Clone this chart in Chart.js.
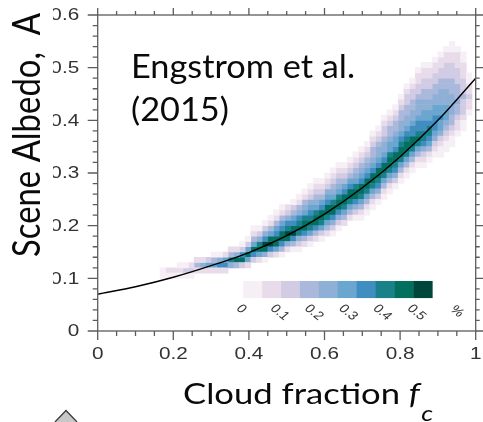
<!DOCTYPE html>
<html><head><meta charset="utf-8">
<script src="https://cdn.jsdelivr.net/npm/chart.js@4.4.0/dist/chart.umd.min.js"></script>
<style>html,body{margin:0;padding:0;background:#fff;}#wrap{width:483px;height:422px;}</style>
</head><body><div id="wrap"><canvas id="c" width="483" height="422"></canvas></div>
<script>
// ---- data ----
// left edges of the cloud-fraction bins of the 2D histogram
const fcBinLeft = [0.165,0.18,0.195,0.21,0.225,0.24,0.255,0.27,0.285,0.30,0.315,0.33,0.345,0.36,0.375,0.39,0.405,0.42,0.435,0.45,0.465,0.48,0.495,0.51,0.525,0.54,0.555,0.57,0.585,0.60,0.615,0.63,0.645,0.66,0.675,0.69,0.705,0.72,0.735,0.75,0.765,0.78,0.795,0.81,0.825,0.84,0.855,0.87,0.885,0.90,0.915,0.93,0.945,0.96,0.975];
const fcBinWidth = 0.015;
const albedoBinHeight = 0.01;
// albedo of the lowest filled cell in each column
const columnStart = [0.10,0.10,0.10,0.10,0.10,0.10,0.11,0.11,0.11,0.11,0.11,0.11,0.12,0.12,0.12,0.12,0.13,0.13,0.13,0.14,0.14,0.14,0.15,0.15,0.15,0.16,0.16,0.17,0.17,0.18,0.18,0.19,0.20,0.21,0.21,0.21,0.22,0.23,0.24,0.25,0.26,0.27,0.28,0.29,0.30,0.31,0.31,0.32,0.33,0.33,0.34,0.35,0.37,0.38,0.41];
// frequency class (colour-bar box 0..9, each 0.05 %) of each cell, bottom to top
const columnClasses = [
 [0,0],[0,1],[0,1],[0,1,0],[0,2,0],[0,2,1],[1,3,1],[1,4,1],[1,5,2],[1,5,3,0],
 [1,6,4,0],[1,6,5,1],[4,7,3,1],[3,8,4,1],[2,8,6,2,0],[1,5,8,5,2,0],[2,6,8,5,3,1,0],[1,5,8,7,4,2,0],[0,4,8,9,6,4,2,0],[2,6,9,8,5,3,1,0],
 [1,5,8,8,6,5,3,1,0],[0,3,6,8,8,6,5,3,1,0],[1,4,8,9,7,6,4,2,1],[0,3,6,9,8,6,5,3,2,0],[0,2,4,7,8,7,6,4,3,1,0],[1,3,6,8,8,7,5,4,3,1,0],[0,2,5,7,8,7,6,5,4,2,1,0],[1,3,6,8,8,7,5,4,3,2,1,0],[0,2,5,7,8,8,6,5,3,2,1,0],[1,3,5,7,8,8,6,5,4,2,1,0],
 [0,2,4,6,8,8,7,5,4,3,2,1,0],[0,2,4,6,8,8,7,5,4,3,2,1,0],[1,3,5,7,8,8,6,5,3,2,1,0],[1,3,5,7,8,8,6,5,3,2,1,0],[0,2,4,6,8,8,7,5,4,3,2,1,0],[0,1,3,5,7,8,8,6,5,4,3,2,1,0],[0,1,3,5,7,8,8,6,5,4,3,2,1,0],[0,1,3,5,7,8,8,6,5,4,3,3,2,1,0],[0,2,4,6,7,8,8,6,5,4,4,3,2,1,0],[0,1,3,5,7,8,8,6,5,4,4,3,2,2,1,0],
 [0,1,3,5,7,8,8,7,5,5,4,3,3,2,1,0],[0,2,4,6,7,8,8,6,5,5,4,3,3,2,1,0],[0,1,3,5,7,8,8,7,6,5,4,4,3,3,2,1,0],[0,1,3,5,7,8,8,7,6,5,4,4,3,3,2,2,1,0],[0,1,3,5,7,8,8,6,6,5,4,4,3,3,2,2,1,0],[0,1,3,5,7,8,7,6,6,5,4,4,4,3,2,2,1,1,0],[0,1,2,4,6,7,7,6,6,5,5,4,4,3,3,2,2,1,1,0],[0,1,3,5,6,7,7,6,5,5,4,4,3,3,2,2,1,1,0],[0,1,2,4,5,6,6,6,5,5,4,4,3,3,2,2,1,1,0],[0,0,1,2,4,5,5,6,5,5,4,4,4,3,3,2,2,1,1,0],
 [0,0,1,2,3,4,5,5,5,4,4,4,3,3,2,2,2,1,1,0],[0,0,1,2,3,3,4,4,4,4,3,3,3,2,2,2,1,1,0,0],[0,1,1,2,3,3,4,3,3,3,2,2,2,1,1,1,0],[0,0,1,2,2,2,3,2,2,2,1,1,1,0,0],[0,1,1,2,1,1,0,0]
];
const classColors = ['#f6eff5','#e8dcea','#d1cce4','#aab9db','#8fb0d6','#6aa6cf','#3f8dc1','#1a8089','#036f5e','#01463a'];
const colorbarLabels = ['0','0.1','0.2','0.3','0.4','0.5'];
const colorbarUnit = '%';
// Engstrom et al. (2015) fit curve
const curveFc = [0,0.1,0.2,0.3,0.4,0.5,0.6,0.7,0.8,0.9,1.0];
const curveA  = [0.070,0.084,0.102,0.124,0.149,0.181,0.222,0.272,0.331,0.400,0.480];
const xTicks = [0,0.2,0.4,0.6,0.8,1];
const xTickLabels = ['0','0.2','0.4','0.6','0.8','1'];
const yTicks = [0,0.1,0.2,0.3,0.4,0.5,0.6];
const yTickLabels = ['0','0.1','0.2','0.3','0.4','0.5','0.6'];
const annotationLines = ['Engstrom et al.','(2015)'];
const yTitle = 'Scene Albedo,  A';
const xTitleMain = 'Cloud fraction ';
const xTitleSym = 'f';
const xTitleSub = 'c';

// ---- build datasets ----
const datasets = [];
for (let lv = 0; lv < classColors.length; lv++) {
  datasets.push({type:'bar', data:[], backgroundColor: classColors[lv], borderWidth:0,
    grouped:false, barPercentage:1, categoryPercentage:1, order:2});
}
fcBinLeft.forEach((x0, k) => {
  const xc = x0 + fcBinWidth / 2;
  columnClasses[k].forEach((lv, j) => {
    const a0 = columnStart[k] + j * albedoBinHeight;
    datasets[lv].data.push({x: xc, y: [a0, a0 + albedoBinHeight]});
  });
});
datasets.push({type:'line', data: curveFc.map((x, i) => ({x, y: curveA[i]})),
  borderColor:'#000', borderWidth:1.4, pointRadius:0, cubicInterpolationMode:'monotone', order:0, fill:false});

function stretchText(c, txt, x, y, sx, sy, rot) {
  c.save(); c.translate(x, y); c.scale(sx, sy); if (rot) c.rotate(rot); c.fillText(txt, 0, 0); c.restore();
}

const decor = {
  id: 'decor',
  afterDraw(chart) {
    const c = chart.ctx, xs = chart.scales.x, ys = chart.scales.y, a = chart.chartArea;
    c.save();
    // frame
    c.strokeStyle = '#5c5c5c'; c.lineWidth = 1.3;
    c.strokeRect(a.left, a.top, a.right - a.left, a.bottom - a.top);
    // ticks (outward, mirrored)
    c.beginPath();
    for (let i = 0; i <= 20; i++) {
      const px = xs.getPixelForValue(i * 0.05); const major = i % 4 === 0;
      c.moveTo(px, a.bottom); c.lineTo(px, a.bottom + (major ? 9 : 5));
      c.moveTo(px, a.top); c.lineTo(px, a.top - (major ? 7 : 4));
    }
    for (let i = 0; i <= 30; i++) {
      const py = ys.getPixelForValue(i * 0.02); const major = i % 5 === 0;
      c.moveTo(a.left, py); c.lineTo(a.left - (major ? 10 : 5), py);
      c.moveTo(a.right, py); c.lineTo(a.right + (major ? 8 : 4), py);
    }
    c.stroke();
    // tick labels
    c.fillStyle = '#333';
    c.font = '17px "Liberation Sans", Arial, sans-serif';
    c.textBaseline = 'middle'; c.textAlign = 'center';
    xTicks.forEach((v, i) => stretchText(c, xTickLabels[i], xs.getPixelForValue(v), a.bottom + 23, 1.22, 1));
    c.textAlign = 'right';
    yTicks.forEach((v, i) => {
      c.save();
      c.beginPath(); c.rect(53, 0, 200, 422); c.clip();
      stretchText(c, yTickLabels[i], a.left - 18.5, ys.getPixelForValue(v) + 0.5, 1.22, 1);
      c.restore();
    });
    // annotation
    c.fillStyle = '#0a0a0a';
    c.font = '32px Lato, sans-serif'; c.textAlign = 'left'; c.textBaseline = 'alphabetic';
    const sxA = 224 / c.measureText(annotationLines[0]).width;
    stretchText(c, annotationLines[0], 131, 78, sxA, 1);
    stretchText(c, annotationLines[1], 131, 121, sxA, 1);
    // y title
    c.font = '33px Lato, sans-serif'; c.textAlign = 'center';
    const sl = 244 / c.measureText(yTitle).width;
    stretchText(c, yTitle, 40, 135, 1.18, sl, -Math.PI / 2);
    // x title with italic symbol and subscript
    c.textAlign = 'left';
    c.font = '28px Lato, sans-serif'; const w1 = c.measureText(xTitleMain).width;
    c.font = 'italic 28px Lato, sans-serif'; const w2 = c.measureText(xTitleSym).width + 1;
    c.font = 'italic 21px Lato, sans-serif'; const w3 = c.measureText(xTitleSub).width;
    const sxT = 250 / (w1 + w2 + w3);
    c.font = '28px Lato, sans-serif'; stretchText(c, xTitleMain, 183, 404, sxT, 1);
    c.font = 'italic 28px Lato, sans-serif'; stretchText(c, xTitleSym, 183 + w1 * sxT, 404, sxT, 1);
    c.font = 'italic 21px Lato, sans-serif'; stretchText(c, xTitleSub, 183 + (w1 + w2) * sxT, 421, sxT, 1);
    // colour bar
    const cbY0 = ys.getPixelForValue(0.095), cbY1 = ys.getPixelForValue(0.0625);
    classColors.forEach((col, i) => {
      const x0 = xs.getPixelForValue(0.385 + 0.05 * i), x1 = xs.getPixelForValue(0.385 + 0.05 * (i + 1));
      c.fillStyle = col; c.fillRect(x0, cbY0, x1 - x0 + 0.4, cbY1 - cbY0);
    });
    c.fillStyle = '#333'; c.font = '12px "Liberation Sans", Arial, sans-serif';
    c.textAlign = 'left'; c.textBaseline = 'top';
    const ly = ys.getPixelForValue(0.0545);
    colorbarLabels.forEach((t, i) => stretchText(c, t, xs.getPixelForValue(0.3855 + 0.0905 * i), ly, 1.22, 1, Math.PI / 4));
    stretchText(c, colorbarUnit, xs.getPixelForValue(0.952), ly + 1, 1.22, 1, Math.PI / 4);
    // small caret at bottom-left
    c.beginPath(); c.moveTo(55, 423); c.lineTo(66, 410.5); c.lineTo(77, 423); c.closePath();
    c.fillStyle = '#c8c8c8'; c.fill();
    c.beginPath(); c.moveTo(55, 422); c.lineTo(66, 410.5); c.lineTo(77, 422);
    c.strokeStyle = '#3a3a3a'; c.lineWidth = 1.3; c.stroke();
    c.restore();
  }
};

new Chart(document.getElementById('c'), {
  type: 'bar',
  data: { datasets },
  options: {
    responsive: false, animation: false, devicePixelRatio: 1,
    layout: { padding: { left: 97.7, right: 7.3, top: 15, bottom: 91 } },
    scales: {
      x: { type: 'linear', min: 0, max: 1, display: false, offset: false, grid: {offset: false} },
      y: { type: 'linear', min: 0, max: 0.6, display: false }
    },
    plugins: { legend: { display: false }, tooltip: { enabled: false } }
  },
  plugins: [decor]
});
</script></body></html>
